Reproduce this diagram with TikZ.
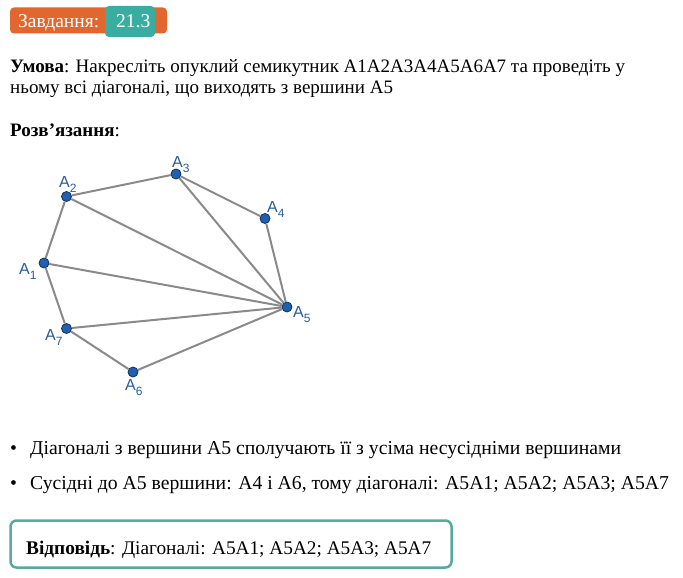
\documentclass[tikz,border=0pt]{standalone}
\usepackage{fontspec}
\setmainfont{Liberation Serif}
\newfontfamily\labfont{Liberation Sans}
\definecolor{badgeor}{HTML}{E2672F}
\definecolor{badgetl}{HTML}{3AADA3}
\definecolor{edgegray}{HTML}{8A8A8A}
\definecolor{dotblue}{HTML}{2160B0}
\definecolor{dotline}{HTML}{10305E}
\definecolor{labblue}{HTML}{2B5C9C}
\definecolor{ansbox}{HTML}{5AAA9C}
\begin{document}
\begin{tikzpicture}[x=1pt,y=-1pt,
  txt/.style={anchor=base west,inner sep=0pt,font=\fontsize{19}{23}\selectfont},
  txtb/.style={anchor=base west,inner sep=0pt,font=\fontsize{19.7}{23}\selectfont},
  txta/.style={anchor=base west,inner sep=0pt,font=\fontsize{19.3}{23}\selectfont},
  vtx/.style={circle,fill=dotblue,draw=dotline,line width=0.8pt,minimum size=10pt,inner sep=0pt},
  vlab/.style={anchor=base west,inner sep=0pt,text=labblue,font=\labfont\fontsize{16}{18}\selectfont},
  edge/.style={draw=edgegray,line width=2pt},
  badge/.style={rounded corners=4pt,inner sep=0pt}]
\useasboundingbox[fill=white] (0,0) rectangle (683,578);
% header badge
\node[badge,fill=badgeor,minimum width=157pt,minimum height=26pt] (bor) at (88.5,20.5) {};
\node[badge,fill=badgetl,minimum width=50pt,minimum height=31pt] (btl) at (130,21.5) {};
\node[anchor=base west,inner sep=0pt,text=white,font=\fontsize{19.5}{23}\selectfont] (bt1) at (18,28) {Завдання:};
\node[anchor=base west,inner sep=0pt,text=white,font=\fontsize{19.5}{23}\selectfont] (bt2) at (116,28) {21.3};
% condition
\node[txt] (u1) at (10,73) {\textbf{Умова}: Накресліть опуклий семикутник A1A2A3A4A5A6A7 та проведіть у};
\node[txt] (u2) at (10,93) {ньому всі діагоналі, що виходять з вершини A5};
\node[txt] (rz) at (10,136) {\textbf{Розв’язання}:};
% polygon vertices
\node[vtx] (a1) at (44,263) {};
\node[vtx] (a2) at (66.5,196.5) {};
\node[vtx] (a3) at (176,174) {};
\node[vtx] (a4) at (265,218.5) {};
\node[vtx] (a5) at (287,307) {};
\node[vtx] (a6) at (133,372) {};
\node[vtx] (a7) at (66.5,328.5) {};
\draw[edge] (a1) -- (a2);
\draw[edge] (a2) -- (a3);
\draw[edge] (a3) -- (a4);
\draw[edge] (a4) -- (a5);
\draw[edge] (a5) -- (a6);
\draw[edge] (a6) -- (a7);
\draw[edge] (a7) -- (a1);
\draw[edge] (a5) -- (a1);
\draw[edge] (a5) -- (a2);
\draw[edge] (a5) -- (a3);
\draw[edge] (a5) -- (a7);
% labels
\node[vlab] (l1) at (19,274) {A\raisebox{-5pt}{\fontsize{12}{12}\selectfont 1}};
\node[vlab] (l2) at (59,187) {A\raisebox{-5pt}{\fontsize{12}{12}\selectfont 2}};
\node[vlab] (l3) at (172,167) {A\raisebox{-5pt}{\fontsize{12}{12}\selectfont 3}};
\node[vlab] (l4) at (267,212) {A\raisebox{-5pt}{\fontsize{12}{12}\selectfont 4}};
\node[vlab] (l5) at (293,317) {A\raisebox{-5pt}{\fontsize{12}{12}\selectfont 5}};
\node[vlab] (l7) at (45,340) {A\raisebox{-5pt}{\fontsize{12}{12}\selectfont 7}};
\node[vlab] (l6) at (125,390) {A\raisebox{-5pt}{\fontsize{12}{12}\selectfont 6}};
% bullets
\node[txtb] (b1d) at (10,454) {•};
\node[txtb] (b1) at (30,454) {Діагоналі з вершини A5 сполучають її з усіма несусідніми вершинами};
\node[txtb] (b2d) at (10,489) {•};
\node[txtb] (b2) at (30,489) {Сусідні до A5 вершини: A4 і A6, тому діагоналі: A5A1; A5A2; A5A3; A5A7};
% answer
\node[draw=ansbox,line width=2.5pt,rounded corners=6pt,minimum width=441pt,minimum height=47pt,inner sep=0pt] (ans) at (231,544) {};
\node[txta] (anst) at (26,554) {\textbf{Відповідь}: Діагоналі: A5A1; A5A2; A5A3; A5A7};
\end{tikzpicture}
\end{document}
